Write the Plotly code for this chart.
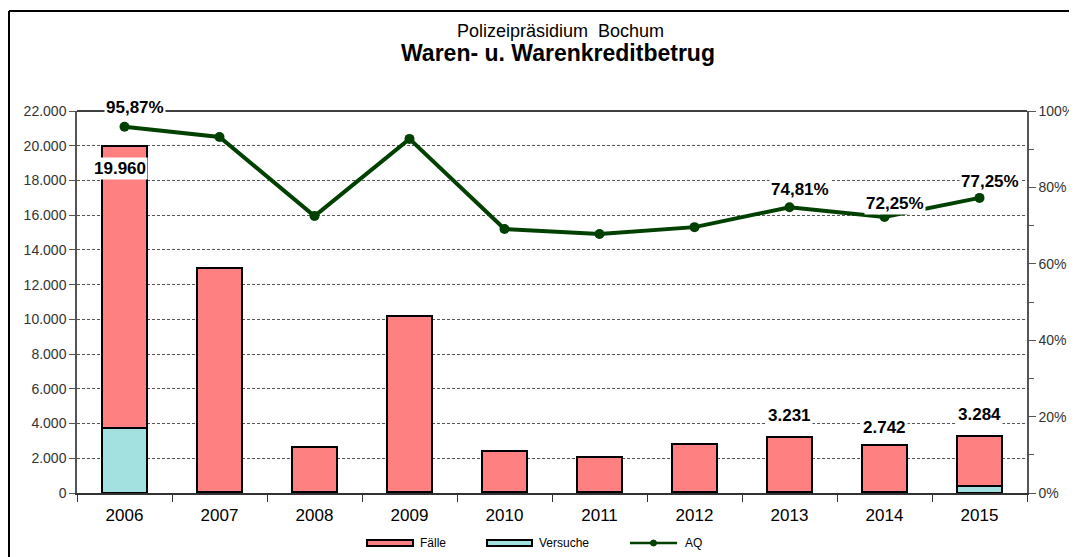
import plotly.graph_objects as go

years = ["2006", "2007", "2008", "2009", "2010", "2011", "2012", "2013", "2014", "2015"]
faelle = [16210, 12930, 2620, 10170, 2390, 2050, 2790, 3201, 2712, 2884]
versuche = [3750, 30, 30, 30, 30, 30, 30, 30, 30, 400]
aq = [95.87, 93.2, 72.5, 92.7, 69.1, 67.8, 69.6, 74.81, 72.25, 77.25]

total_labels_idx = [0, 7, 8, 9]
aq_labels_idx = [0, 7, 8, 9]

def de_int(v):
    return f"{v:,}".replace(",", ".")

def de_pct(v):
    return f"{v:.2f}%".replace(".", ",")

totals = [f + v for f, v in zip(faelle, versuche)]

FONT = "Liberation Sans, Arial, sans-serif"
GREEN = "#004000"
RED = "#FF8080"
CYAN = "#A3E0E0"

# page has an 8px body margin; plot area targets x 77..1027, y 111..493 in the window
def px_x(p):
    return (p - 77) / 950.0

def px_y(p):
    return (493 - p) / 382.0

fig = go.Figure()
fig.add_trace(go.Bar(x=years, y=versuche, name="Versuche", marker=dict(color=CYAN, line=dict(color="black", width=2)),
                     width=0.48, yaxis="y"))
fig.add_trace(go.Bar(x=years, y=faelle, name="Fälle", marker=dict(color=RED, line=dict(color="black", width=2)),
                     width=0.48, yaxis="y"))
fig.add_trace(go.Scatter(x=years, y=aq, name="AQ", yaxis="y2", mode="lines+markers",
                         line=dict(color=GREEN, width=4), marker=dict(color=GREEN, size=10)))

total_shift = {0: -11, 7: 10, 8: 6, 9: 10}
aq_shift = {0: 8, 7: 6, 8: 2, 9: 5}

annotations = []
for i in total_labels_idx:
    if i == 0:
        annotations.append(dict(x=i, xref="x", y=totals[i], yref="y", text=f"<b>{de_int(totals[i])}</b>", showarrow=False,
                                yanchor="top", yshift=total_shift[i], xshift=-5, bgcolor="white", borderpad=1,
                                font=dict(size=17, color="black", family=FONT)))
    else:
        annotations.append(dict(x=i, xref="x", y=totals[i], yref="y", text=f"<b>{de_int(totals[i])}</b>", showarrow=False,
                                yanchor="bottom", yshift=total_shift[i], bgcolor="white", borderpad=1,
                                font=dict(size=17, color="black", family=FONT)))
for i in aq_labels_idx:
    annotations.append(dict(x=i, xref="x", y=aq[i], yref="y2", text=f"<b>{de_pct(aq[i])}</b>", showarrow=False,
                            yanchor="bottom", yshift=aq_shift[i], xshift=10, bgcolor="white", borderpad=1,
                            font=dict(size=17, color="black", family=FONT)))

annotations.append(dict(xref="paper", yref="paper", x=px_x(560), y=px_y(31), text="Polizeipräsidium  Bochum", showarrow=False,
                        font=dict(size=18, color="black", family=FONT), yanchor="middle"))
annotations.append(dict(xref="paper", yref="paper", x=px_x(558), y=px_y(53), text="<b>Waren- u. Warenkreditbetrug</b>", showarrow=False,
                        font=dict(size=23, color="black", family=FONT), yanchor="middle"))

# custom legend (wide swatches as in the reference)
legend_items = [("Fälle", RED, 367, 413, 418), ("Versuche", CYAN, 487, 532, 537)]
shapes = [
    dict(type="line", xref="paper", yref="paper", x0=0, x1=1, y0=1, y1=1, line=dict(color="black", width=1.5), layer="above"),
    dict(type="line", xref="paper", yref="paper", x0=px_x(9), x1=px_x(9), y0=px_y(570), y1=px_y(11), line=dict(color="black", width=2)),
    dict(type="line", xref="paper", yref="paper", x0=px_x(9), x1=px_x(1085), y0=px_y(11), y1=px_y(11), line=dict(color="black", width=2)),
]
for name, col, a, b, t in legend_items:
    shapes.append(dict(type="rect", xref="paper", yref="paper", x0=px_x(a), x1=px_x(b), y0=px_y(546), y1=px_y(540),
                       fillcolor=col, line=dict(color="black", width=2)))
    annotations.append(dict(xref="paper", yref="paper", x=px_x(t), y=px_y(543), text=name, showarrow=False,
                            xanchor="left", yanchor="middle", font=dict(size=12, color="black", family=FONT)))
shapes.append(dict(type="line", xref="paper", yref="paper", x0=px_x(630), x1=px_x(677), y0=px_y(543), y1=px_y(543),
                   line=dict(color=GREEN, width=2.5)))
shapes.append(dict(type="circle", xref="paper", yref="paper", x0=px_x(650.5), x1=px_x(656.5), y0=px_y(546), y1=px_y(540),
                   fillcolor=GREEN, line=dict(color=GREEN, width=1)))
annotations.append(dict(xref="paper", yref="paper", x=px_x(683), y=px_y(543), text="AQ", showarrow=False,
                        xanchor="left", yanchor="middle", font=dict(size=12, color="black", family=FONT)))

fig.update_layout(
    width=1069, height=549,
    margin=dict(l=69, r=50, t=103, b=64, autoexpand=False),
    paper_bgcolor="white", plot_bgcolor="white",
    barmode="stack",
    separators=",.",
    font=dict(family=FONT, color="#222"),
    showlegend=False,
    xaxis=dict(type="category", categoryorder="array", categoryarray=years, range=[-0.5, len(years) - 0.5],
               showline=True, linecolor="#333", linewidth=1.5, ticks="outside", tickson="boundaries",
               ticklen=7, tickcolor="#333", tickfont=dict(size=17, color="black", family=FONT), showgrid=False,
               tickangle=0, ticklabelstandoff=6),
    yaxis=dict(range=[0, 22000], dtick=2000, tickformat=",d", showline=True, linecolor="#555", linewidth=1.5,
               ticks="outside", ticklen=6, tickcolor="#555", tickfont=dict(size=14, color="#333", family=FONT),
               showgrid=True, gridcolor="#555", griddash="3px,2px", gridwidth=1, zeroline=False),
    yaxis2=dict(range=[0, 100], dtick=20, ticksuffix="%", overlaying="y", side="right", showline=True,
                linecolor="#555", linewidth=1.5, ticks="outside", ticklen=7, tickcolor="#555",
                minor=dict(dtick=10, ticks="outside", ticklen=5, tickcolor="#555"),
                tickfont=dict(size=14, color="#333", family=FONT), showgrid=False, zeroline=False),
    annotations=annotations,
    shapes=shapes,
)

fig.write_html("out.html")
